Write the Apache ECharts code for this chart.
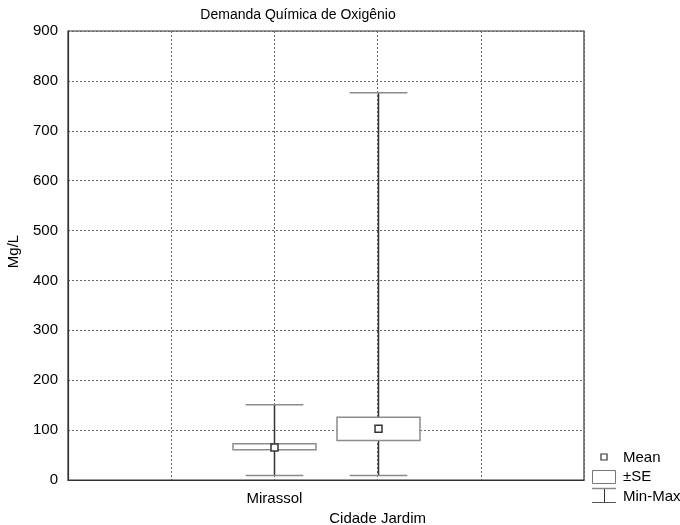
<!DOCTYPE html>
<html>
<head>
<meta charset="utf-8">
<script src="https://cdn.jsdelivr.net/npm/echarts@6/dist/echarts.min.js"></script>
<style>
  html, body { margin: 0; padding: 0; background: #fff; }
  #chart { width: 680px; height: 525px; }
</style>
</head>
<body>
<div id="chart"></div>
<script>
// Slots along the x axis; the two sites sit in the middle slots
const xSlots = ['', '', 'Mirassol', 'Cidade Jardim', '', ''];
const sites = ['Mirassol', 'Cidade Jardim'];
const means = [65, 102.5];
const seLow = [60.5, 79];
const seHigh = [72.5, 126];
const mins = [9, 9];
const maxs = [151, 776];
const yTicks = [0, 100, 200, 300, 400, 500, 600, 700, 800, 900];

const FONT = 'Liberation Sans, Arial, sans-serif';

const seriesData = sites.map((s, i) => [xSlots.indexOf(s), means[i], seLow[i], seHigh[i], mins[i], maxs[i]]);

function renderItem(params, api) {
  const x = api.value(0);
  const unit = api.size([1, 0])[0];
  const boxHalf = unit * 0.402;
  const capHalf = unit * 0.28;
  const pMean = api.coord([x, api.value(1)]);
  const pLo = api.coord([x, api.value(2)]);
  const pHi = api.coord([x, api.value(3)]);
  const pMin = api.coord([x, api.value(4)]);
  const pMax = api.coord([x, api.value(5)]);
  const cx = Math.round(pMean[0]) + 0.5;
  const gray = '#8c8c8c';
  const dark = '#333';
  const ms = 7;
  return {
    type: 'group',
    children: [
      { type: 'line', shape: { x1: cx, y1: pMin[1], x2: cx, y2: pMax[1] }, style: { stroke: dark, lineWidth: 1.5 } },
      { type: 'line', shape: { x1: cx - capHalf, y1: pMax[1], x2: cx + capHalf, y2: pMax[1] }, style: { stroke: gray, lineWidth: 1.5 } },
      { type: 'line', shape: { x1: cx - capHalf, y1: pMin[1], x2: cx + capHalf, y2: pMin[1] }, style: { stroke: gray, lineWidth: 1.5 } },
      { type: 'rect', shape: { x: cx - boxHalf, y: pHi[1], width: boxHalf * 2, height: pLo[1] - pHi[1] }, style: { fill: '#fff', stroke: gray, lineWidth: 1.5 } },
      { type: 'rect', shape: { x: cx - ms / 2, y: pMean[1] - ms / 2, width: ms, height: ms }, style: { fill: '#fff', stroke: dark, lineWidth: 1.5 } }
    ]
  };
}

const chart = echarts.init(document.getElementById('chart'), null, { renderer: 'canvas' });
chart.setOption({
  backgroundColor: '#fff',
  animation: false,
  textStyle: { fontFamily: FONT },
  title: {
    text: 'Demanda Química de Oxigênio',
    left: 293, top: 3, textAlign: 'center',
    textStyle: { fontFamily: FONT, fontSize: 14, fontWeight: 'normal', color: '#000' }
  },
  grid: {
    left: 68, right: 96, top: 31, bottom: 45,
    outerBoundsMode: 'none',
    show: true, borderColor: '#333', borderWidth: 1.2, containLabel: false
  },
  xAxis: {
    type: 'category',
    data: xSlots,
    boundaryGap: false,
    axisLine: { show: true, lineStyle: { color: '#333', width: 1.2 } },
    axisTick: { show: false },
    axisLabel: {
      interval: 0, margin: 9, fontFamily: FONT, fontSize: 15, color: '#000', lineHeight: 20,
      formatter: (v, i) => (i === 3 ? '\n' + v : v)
    },
    splitLine: { show: true, interval: 0, lineStyle: { color: '#666', type: [2, 2], width: 1 } }
  },
  yAxis: {
    type: 'value',
    min: yTicks[0], max: yTicks[yTicks.length - 1], interval: 100,
    name: 'Mg/L', nameLocation: 'middle', nameGap: 47, nameRotate: 90,
    nameTextStyle: { fontFamily: FONT, fontSize: 15, color: '#000', padding: [0, 0, 0, 8] },
    axisLine: { show: true, lineStyle: { color: '#333', width: 1.2 } },
    axisTick: { show: false },
    axisLabel: { margin: 10, fontFamily: FONT, fontSize: 15, color: '#000' },
    splitLine: { show: true, lineStyle: { color: '#666', type: [2, 2], width: 1 } }
  },
  series: [{
    type: 'custom',
    renderItem: renderItem,
    encode: { x: 0, y: [1, 2, 3, 4, 5] },
    data: seriesData,
    z: 5
  }],
  graphic: [
    // key for the plot symbols
    { type: 'rect', shape: { x: 601, y: 454, width: 6, height: 6 }, style: { fill: '#fff', stroke: '#333', lineWidth: 1.2 } },
    { type: 'text', x: 623, y: 458, style: { text: 'Mean', font: '15px ' + FONT, fill: '#000', textVerticalAlign: 'middle' } },
    { type: 'rect', shape: { x: 592.5, y: 470.5, width: 23, height: 13 }, style: { fill: '#fff', stroke: '#777', lineWidth: 1 } },
    { type: 'text', x: 623, y: 477, style: { text: '±SE', font: '15px ' + FONT, fill: '#000', textVerticalAlign: 'middle' } },
    { type: 'line', shape: { x1: 592, y1: 488.5, x2: 616, y2: 488.5 }, style: { stroke: '#888', lineWidth: 1.5 } },
    { type: 'line', shape: { x1: 604.5, y1: 489, x2: 604.5, y2: 502 }, style: { stroke: '#333', lineWidth: 1 } },
    { type: 'line', shape: { x1: 592, y1: 502.5, x2: 616, y2: 502.5 }, style: { stroke: '#555', lineWidth: 1 } },
    { type: 'text', x: 623, y: 497, style: { text: 'Min-Max', font: '15px ' + FONT, fill: '#000', textVerticalAlign: 'middle' } }
  ]
});
</script>
</body>
</html>
